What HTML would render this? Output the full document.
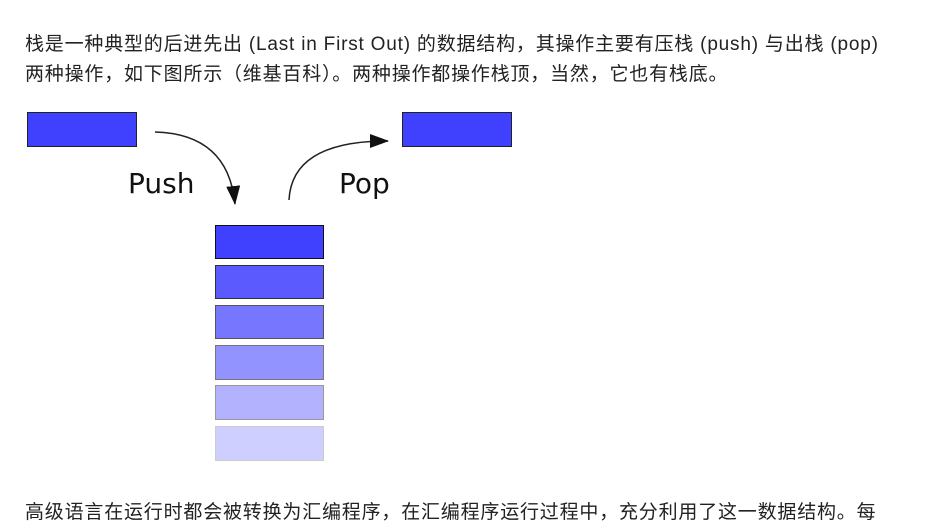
<!DOCTYPE html>
<html><head><meta charset="utf-8"><style>
body{margin:0;width:931px;height:503px;overflow:hidden;background:#fff;position:relative;font-family:"Liberation Sans","Noto Sans CJK SC",sans-serif;color:#222;}
.t{position:absolute;left:25px;font-size:19px;line-height:30px;white-space:nowrap;letter-spacing:0.8px;}
</style></head><body>
<div class="t" style="top:30px">栈是一种典型的后进先出 (Last in First Out) 的数据结构，其操作主要有压栈 (push) 与出栈 (pop)</div>
<div class="t" style="top:60px">两种操作，如下图所示（维基百科）。两种操作都操作栈顶，当然，它也有栈底。</div>
<div class="t" style="top:498px">高级语言在运行时都会被转换为汇编程序，在汇编程序运行过程中，充分利用了这一数据结构。每</div>
<svg width="931" height="503" style="position:absolute;left:0;top:0">
<defs><marker id="a" markerWidth="20" markerHeight="14" refX="18" refY="7" orient="auto" markerUnits="userSpaceOnUse"><path d="M0,0 L19,7 L0,14 z" fill="#111"/></marker></defs>
<rect x="27.5" y="112.5" width="109" height="34" fill="#4040ff" stroke="#222"/>
<rect x="402.5" y="112.5" width="109" height="34" fill="#4040ff" stroke="#222"/>
<rect x="215.5" y="225.5" width="108" height="33" fill="#4040ff" stroke="#111"/>
<rect x="215.5" y="265.5" width="108" height="33" fill="#5a5aff" stroke="#333"/>
<rect x="215.5" y="305.5" width="108" height="33" fill="#7676ff" stroke="#555"/>
<rect x="215.5" y="345.5" width="108" height="34" fill="#9393ff" stroke="#777"/>
<rect x="215.5" y="385.5" width="108" height="34" fill="#b2b2ff" stroke="#999"/>
<rect x="215.5" y="426.5" width="108" height="34" fill="#cfcfff" stroke="#ccc"/>
<path d="M155,132 Q228,134 235,204" fill="none" stroke="#222" stroke-width="1.5" marker-end="url(#a)"/>
<path d="M289,200 Q292,141 388,141" fill="none" stroke="#222" stroke-width="1.5" marker-end="url(#a)"/>
<text x="128" y="193" font-family="DejaVu Sans" font-size="28" fill="#111">Push</text>
<text x="339" y="193" font-family="DejaVu Sans" font-size="28" fill="#111">Pop</text>
</svg>
</body></html>
